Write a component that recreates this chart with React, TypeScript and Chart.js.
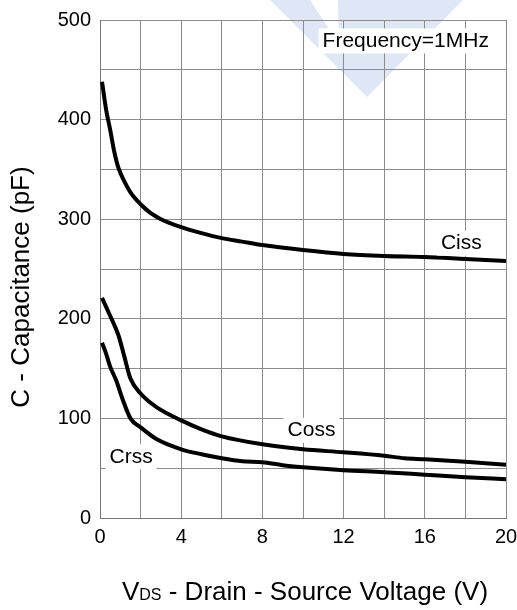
import React, { useEffect, useRef } from "react";
import { Chart, registerables } from "chart.js";

Chart.register(...registerables);

// ---- data ----
const cissX = [0.1, 0.3, 0.5, 0.7, 0.9, 1.2, 1.5, 2, 2.5, 3, 4, 5, 6, 7, 8, 10, 12, 14, 16, 18, 20];
const cissY = [438, 410, 390, 368, 352, 338, 327, 315, 306, 300, 292, 286, 281, 277.5, 274, 269, 265, 263, 262, 260, 258];

const cossX = [0.1, 0.5, 0.9, 1.2, 1.5, 2, 2.8, 4, 5, 6, 8, 10, 12, 14, 15, 16, 18, 20];
const cossY = [221, 203, 184, 162, 140, 125, 111, 98, 89, 82, 74, 69, 66, 62.5, 60, 59, 56.5, 53.5];

const crssX = [0.1, 0.3, 0.5, 0.8, 1.1, 1.5, 2, 2.8, 4, 5, 6, 7, 8, 9, 10, 12, 14, 16, 18, 20];
const crssY = [176, 165, 152, 138, 120, 100, 91, 79, 69, 64, 60, 57, 56, 53, 51, 48, 46, 43.5, 41, 39];

const xTickStep = 2;
const xLabelStep = 4;
const yTickStep = 50;
const yLabelStep = 100;

const noteTexts = ["Ciss", "Coss", "Crss", "Frequency=1MHz"];
const noteX = [17.8, 10.42, 1.53, 15.06];
const noteY = [276, 88, 61.5, 479];

const yTitle = "C - Capacitance (pF)";
const xTitleMain = "V";
const xTitleSub = "DS";
const xTitleRest = " - Drain - Source Voltage (V)";

const FONT = "'Liberation Sans', Arial, Helvetica, sans-serif";

function pts(xs: number[], ys: number[]) {
  return xs.map((x, i) => ({ x, y: ys[i] }));
}

const decorPlugin = {
  id: "decor",
  beforeDraw(chart: any) {
    const ctx = chart.ctx;
    ctx.save();
    // faint watermark
    ctx.fillStyle = "rgb(223,231,246)";
    ctx.beginPath();
    ctx.moveTo(270, 0);
    ctx.lineTo(310, 0);
    ctx.lineTo(339, 44);
    ctx.lineTo(338, 0);
    ctx.lineTo(463, 0);
    ctx.lineTo(367, 97);
    ctx.closePath();
    ctx.fill();
    ctx.restore();
  },
  afterDatasetsDraw(chart: any) {
    const ctx = chart.ctx;
    const xs = chart.scales.x;
    const ys = chart.scales.y;
    ctx.save();
    ctx.font = `21px ${FONT}`;
    ctx.textAlign = "center";
    ctx.textBaseline = "middle";
    for (let i = 0; i < noteTexts.length; i++) {
      const px = xs.getPixelForValue(noteX[i]);
      const py = ys.getPixelForValue(noteY[i]);
      const w = ctx.measureText(noteTexts[i]).width;
      ctx.fillStyle = "#ffffff";
      ctx.fillRect(px - w / 2 - 4, py - 12.5, w + 8, 25);
      ctx.fillStyle = "#000000";
      ctx.fillText(noteTexts[i], px, py);
    }
    ctx.restore();
  },
  afterDraw(chart: any) {
    const ctx = chart.ctx;
    const area = chart.chartArea;
    ctx.save();
    ctx.fillStyle = "#000000";
    // y title
    ctx.font = `26px ${FONT}`;
    ctx.textAlign = "center";
    ctx.textBaseline = "alphabetic";
    ctx.translate(29, 287);
    ctx.rotate(-Math.PI / 2);
    ctx.fillText(yTitle, 0, 0);
    ctx.setTransform(1, 0, 0, 1, 0, 0);
    // x title
    ctx.textAlign = "left";
    ctx.font = `26px ${FONT}`;
    const w1 = ctx.measureText(xTitleMain).width;
    const w3 = ctx.measureText(xTitleRest).width;
    ctx.font = `16px ${FONT}`;
    const w2 = ctx.measureText(xTitleSub).width;
    const total = w1 + w2 + w3;
    const cx = (area.left + area.right) / 2 + 2;
    let sx = cx - total / 2;
    const base = 600;
    ctx.font = `26px ${FONT}`;
    ctx.fillText(xTitleMain, sx, base);
    sx += w1;
    ctx.font = `16px ${FONT}`;
    ctx.fillText(xTitleSub, sx, base);
    sx += w2;
    ctx.font = `26px ${FONT}`;
    ctx.fillText(xTitleRest, sx, base);
    ctx.restore();
  },
};

export default function App() {
  const ref = useRef<HTMLCanvasElement | null>(null);

  useEffect(() => {
    if (!ref.current) return;
    const lineStyle = {
      borderColor: "#000000",
      borderWidth: 4,
      pointRadius: 0,
      fill: false,
      cubicInterpolationMode: "monotone" as const,
    };
    const chart = new Chart(ref.current, {
      type: "line",
      data: {
        datasets: [
          { label: "Ciss", data: pts(cissX, cissY), ...lineStyle },
          { label: "Coss", data: pts(cossX, cossY), ...lineStyle },
          { label: "Crss", data: pts(crssX, crssY), ...lineStyle },
        ],
      },
      options: {
        animation: false,
        responsive: false,
        maintainAspectRatio: false,
        layout: { padding: { top: 20, right: 11, left: 0, bottom: 0 } },
        plugins: { legend: { display: false }, tooltip: { enabled: false } },
        scales: {
          x: {
            type: "linear",
            min: 0,
            max: 20,
            afterFit: (s: any) => {
              s.height = 92;
              s.paddingLeft = 0;
              s.paddingRight = 0;
            },
            ticks: {
              stepSize: xTickStep,
              autoSkip: false,
              maxRotation: 0,
              padding: 7,
              color: "#000000",
              font: { size: 20, family: FONT },
              callback: (v: any) => (Number(v) % xLabelStep === 0 ? String(v) : ""),
            },
            grid: { color: "#8c8c8c", lineWidth: 1, drawTicks: false },
            border: { color: "#777777", width: 1 },
          },
          y: {
            type: "linear",
            min: 0,
            max: 500,
            afterFit: (s: any) => {
              s.width = 100;
              s.paddingTop = 0;
              s.paddingBottom = 0;
            },
            ticks: {
              stepSize: yTickStep,
              autoSkip: false,
              padding: 9,
              color: "#000000",
              font: { size: 20, family: FONT },
              callback: (v: any) => (Number(v) % yLabelStep === 0 ? String(v) : ""),
            },
            grid: { color: "#8c8c8c", lineWidth: 1, drawTicks: false },
            border: { color: "#777777", width: 1 },
          },
        },
      },
      plugins: [decorPlugin],
    });
    return () => chart.destroy();
  }, []);

  return (
    <div style={{ position: "fixed", left: 0, top: 0, width: 517, height: 610, background: "#ffffff" }}>
      <canvas ref={ref} width={517} height={610} style={{ display: "block", width: 517, height: 610 }} />
    </div>
  );
}
